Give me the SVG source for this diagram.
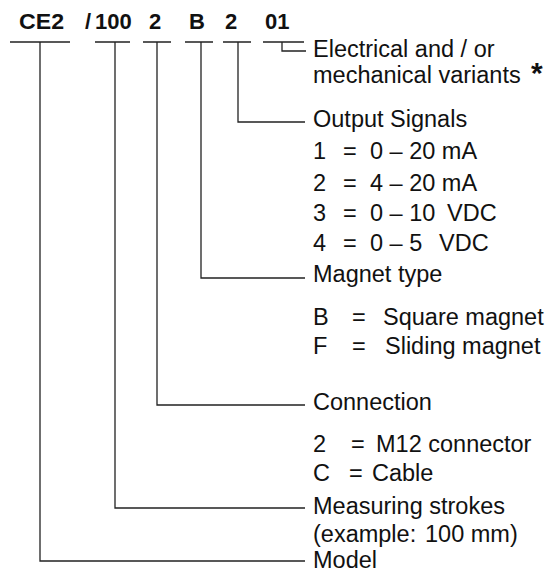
<svg xmlns="http://www.w3.org/2000/svg" width="555" height="573" viewBox="0 0 555 573">
<style>
.h{font-family:"Liberation Sans",Arial,sans-serif;font-weight:bold;font-size:22px;fill:#111}
.t{font-family:"Liberation Sans",Arial,sans-serif;font-size:23.5px;fill:#111}
.ln{stroke:#222;stroke-width:1.3;fill:none}
</style>
<rect width="555" height="573" fill="#fff"/>
<g id="code">
<text class="h" x="19" y="29" textLength="45" lengthAdjust="spacingAndGlyphs">CE2</text>
<text class="h" x="85" y="29">/</text>
<text class="h" x="95" y="29">100</text>
<text class="h" x="149" y="29">2</text>
<text class="h" x="189" y="29">B</text>
<text class="h" x="225" y="29">2</text>
<text class="h" x="265" y="29">01</text>
</g>
<g id="connectors" class="ln">
<path d="M10 42H70M40 42V561H305"/>
<path d="M95 42H130M115 42V508H305"/>
<path d="M143 42H171M157 42V405H305"/>
<path d="M185 42H213M201 42V278H305"/>
<path d="M223 42H251M238 42V122H305"/>
<path d="M263 42H304M282 42V51H306"/>
</g>
<g id="variants">
<text class="t" x="313" y="57">Electrical and / or</text>
<text class="t" x="313" y="83">mechanical variants</text>
<text class="h" x="531" y="83" style="font-size:30px">*</text>
</g>
<g id="output">
<text class="t" x="313" y="127">Output Signals</text>
<text class="t" x="313" y="159">1</text><text class="t" x="343" y="159">=</text><text class="t" x="370" y="159">0 – 20 mA</text>
<text class="t" x="313" y="191">2</text><text class="t" x="343" y="191">=</text><text class="t" x="370" y="191">4 – 20 mA</text>
<text class="t" x="313" y="221">3</text><text class="t" x="343" y="221">=</text><text class="t" x="370" y="221">0 – 10</text><text class="t" x="447" y="221">VDC</text>
<text class="t" x="313" y="251">4</text><text class="t" x="343" y="251">=</text><text class="t" x="370" y="251">0 – 5</text><text class="t" x="439" y="251">VDC</text>
</g>
<g id="magnet">
<text class="t" x="313" y="282">Magnet type</text>
<text class="t" x="313" y="325">B</text><text class="t" x="352" y="325">=</text><text class="t" x="383" y="325">Square magnet</text>
<text class="t" x="313" y="354">F</text><text class="t" x="352" y="354">=</text><text class="t" x="385" y="354">Sliding magnet</text>
</g>
<g id="connection">
<text class="t" x="313" y="410">Connection</text>
<text class="t" x="313" y="452">2</text><text class="t" x="351" y="452">=</text><text class="t" x="376" y="452">M12 connector</text>
<text class="t" x="313" y="481">C</text><text class="t" x="349" y="481">=</text><text class="t" x="372" y="481">Cable</text>
</g>
<g id="strokes">
<text class="t" x="313" y="514">Measuring strokes</text>
<text class="t" x="313" y="542">(example:</text><text class="t" x="425" y="542">100 mm)</text>
</g>
<g id="model">
<text class="t" x="313" y="568">Model</text>
</g>
</svg>
